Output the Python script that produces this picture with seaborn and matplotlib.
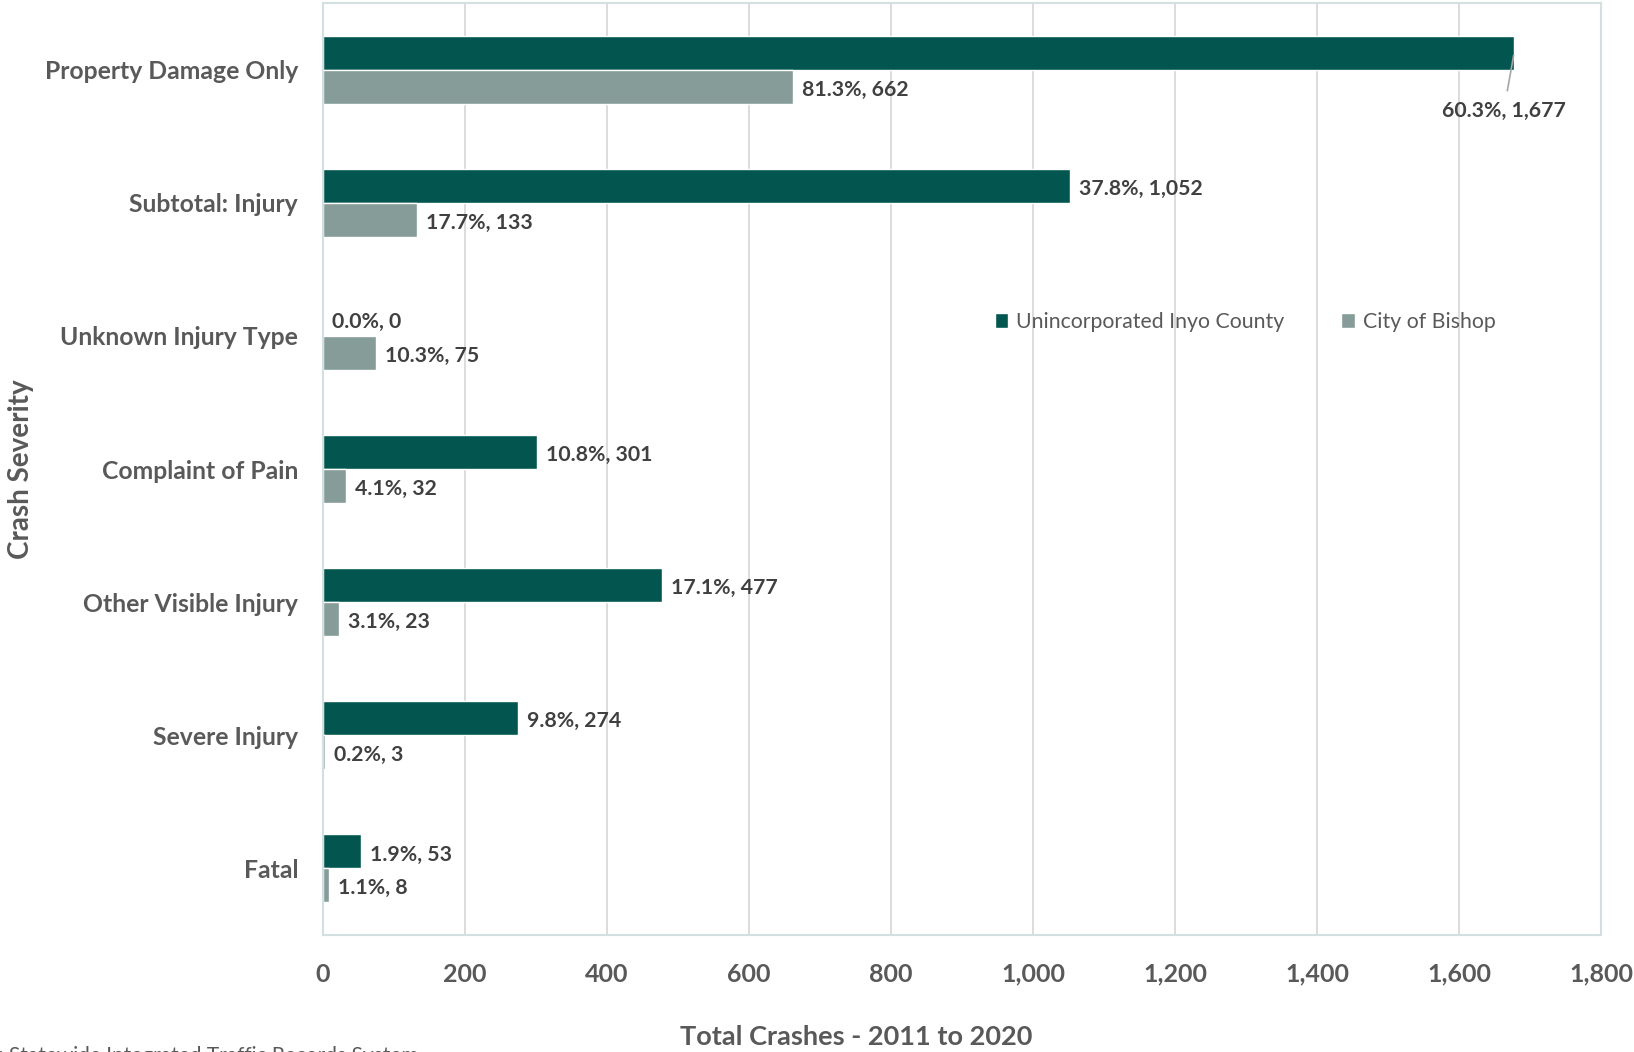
import matplotlib
matplotlib.use("Agg")
import matplotlib.pyplot as plt
import seaborn as sns
import pandas as pd

categories = ["Property Damage Only", "Subtotal: Injury", "Unknown Injury Type",
              "Complaint of Pain", "Other Visible Injury", "Severe Injury", "Fatal"]
series = ["Unincorporated Inyo County", "City of Bishop"]
inyo_counts = [1677, 1052, 0, 301, 477, 274, 53]
inyo_pct = [60.3, 37.8, 0.0, 10.8, 17.1, 9.8, 1.9]
bishop_counts = [662, 133, 75, 32, 23, 3, 8]
bishop_pct = [81.3, 17.7, 10.3, 4.1, 3.1, 0.2, 1.1]
x_ticks = [0, 200, 400, 600, 800, 1000, 1200, 1400, 1600, 1800]

df = pd.DataFrame({
    "Crash Severity": categories * 2,
    "Crashes": inyo_counts + bishop_counts,
    "Area": [series[0]] * len(categories) + [series[1]] * len(categories),
})

sns.set_theme(style="white")
plt.rcParams["font.family"] = ["Lato", "DejaVu Sans"]

colors = ["#02564F", "#869C99"]
fig = plt.figure(figsize=(16.34, 10.52), dpi=100)
ax = fig.add_axes([323 / 1634, 1 - 935 / 1052, (1601 - 323) / 1634, (935 - 3) / 1052])

sns.barplot(data=df, x="Crashes", y="Crash Severity", hue="Area", hue_order=series,
            order=categories, palette=colors, width=0.51, orient="h",
            saturation=1, ax=ax, legend=True)

ax.set_xlim(0, 1800)
ax.set_ylim(len(categories) - 0.5, -0.5)
ax.set_xticks(x_ticks)
ax.set_xticklabels([f"{t:,}" for t in x_ticks])
ax.grid(axis="x", color="#D9D9D9", linewidth=1.3)
ax.set_axisbelow(True)
for s in ax.spines.values():
    s.set_color("#D3E0E2")
    s.set_linewidth(1.5)
ax.tick_params(axis="both", length=0, labelcolor="#595959")
ax.tick_params(axis="x", pad=20, labelsize=18)
ax.tick_params(axis="y", pad=18, labelsize=17.8)
for lab in ax.get_xticklabels() + ax.get_yticklabels():
    lab.set_fontweight("bold")

ax.set_xlabel("")
ax.set_ylabel("")
fig.text(21 / 1634, 1 - 469 / 1052, "Crash Severity", rotation=90, ha="center",
         va="center", fontsize=20, fontweight="bold", color="#595959")
fig.text(822 * 1.042 / 1634, 1 - 1037 / 1052, "Total Crashes - 2011 to 2020", ha="center",
         va="center", fontsize=19.5, fontweight="bold", color="#595959")
fig.text(-0.040, 1 - 1062 / 1052, "Source: Statewide Integrated Traffic Records System",
         ha="left", va="baseline", fontsize=15, color="#595959")

label_kw = dict(fontsize=15.3, fontweight="bold", color="#404040")
inyo_labels = [f"{p:.1f}%, {c:,}" for p, c in zip(inyo_pct, inyo_counts)]
bishop_labels = [f"{p:.1f}%, {c:,}" for p, c in zip(bishop_pct, bishop_counts)]


def label_bars(container, labels, skip=()):
    for i, (bar, text) in enumerate(zip(container, labels)):
        if i in skip:
            continue
        end = bar.get_x() + bar.get_width()
        mid = bar.get_y() + bar.get_height() / 2
        ax.annotate(text, xy=(end, mid), xytext=(6.5, -2.2), textcoords="offset points",
                    ha="left", va="center", **label_kw)


label_bars(ax.containers[0], inyo_labels, skip=(0,))
label_bars(ax.containers[1], bishop_labels)

# The longest bar gets its label below the bar end with a leader line
top_bar = ax.containers[0][0]
bar_end = top_bar.get_x() + top_bar.get_width()
bar_mid = top_bar.get_y() + top_bar.get_height() / 2
ax.annotate(inyo_labels[0], xy=(bar_end, bar_mid + 0.02), xytext=(bar_end - 14, 0.31),
            ha="center", va="center",
            arrowprops=dict(arrowstyle="-", color="#A6A6A6", lw=1.2, shrinkA=5, shrinkB=0),
            **label_kw)

leg = ax.legend(loc="center", bbox_to_anchor=((995 + 1495) / 2 / 1634, 1 - 322 / 1052),
                bbox_transform=fig.transFigure, ncol=2, frameon=False,
                handlelength=0.65, handleheight=0.65, handletextpad=0.35, columnspacing=2.7,
                fontsize=15.3)
for t in leg.get_texts():
    t.set_color("#595959")

fig.savefig("out.png", dpi=100)
